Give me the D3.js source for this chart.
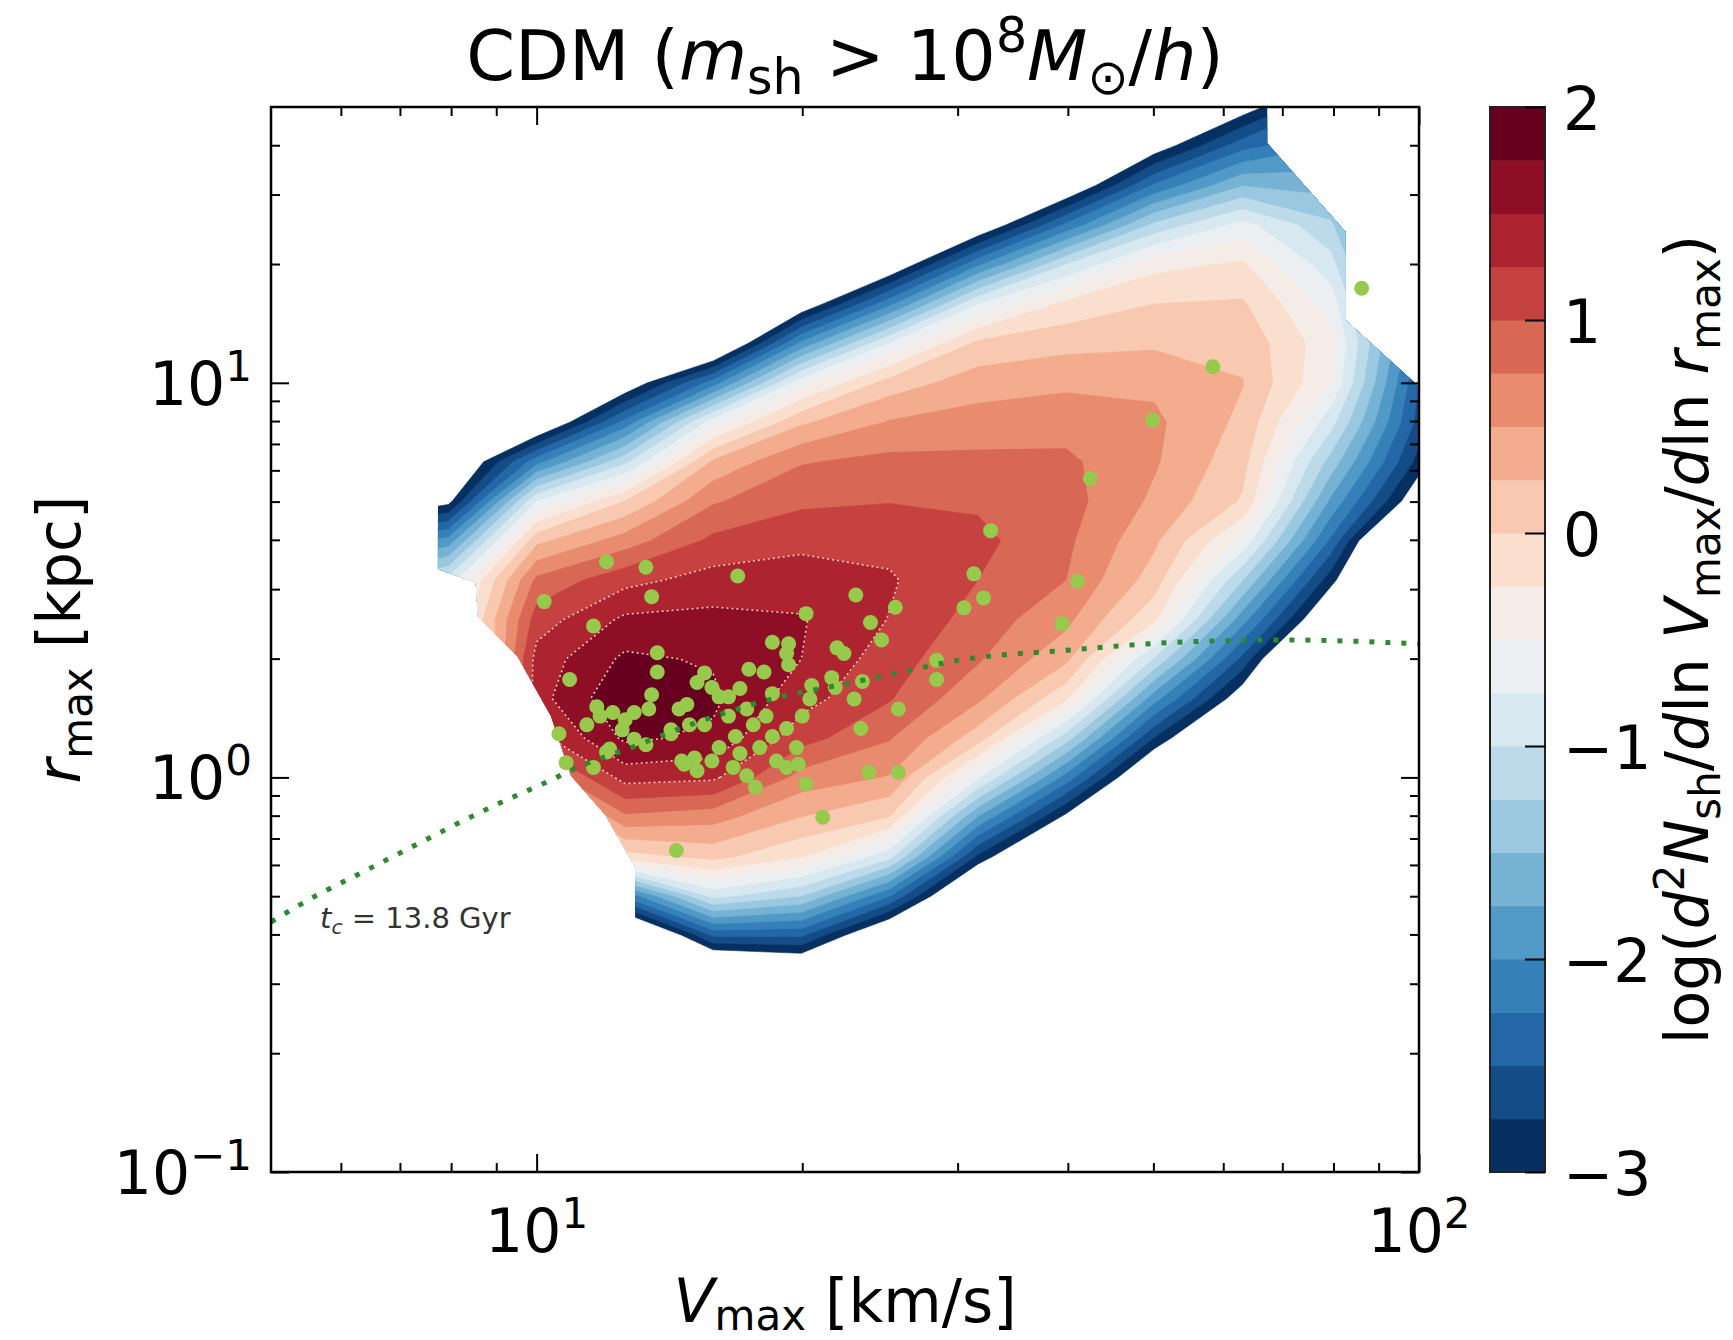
<!DOCTYPE html>
<html lang="en">
	<head>
		<meta charset="utf-8">
		<title>CDM subhalo Vmax - rmax density</title>
		<script type="text/javascript" src="https://cdn.jsdelivr.net/npm/d3@7/dist/d3.min.js"></script>
		<style type="text/css">
			body { margin: 0; background: #fff; }
			svg { display: block; font-family: "DejaVu Sans", sans-serif; }
			text { white-space: pre; }
		</style>
	</head>
	<body>
		<script type="text/javascript">

			//
			//	Density field on a 0.1 dex grid
			//	(log10 Vmax across, log10 rmax down, top row first)
			//
			var gridLogV = [0.8, 0.9, 1.0, 1.1, 1.2, 1.3, 1.4, 1.5, 1.6, 1.7, 1.8, 1.9, 2.0];
			var gridLogR = [1.7, 1.6, 1.5, 1.4, 1.3, 1.2, 1.1, 1.0, 0.9, 0.8, 0.7, 0.6,
							0.5, 0.4, 0.3, 0.2, 0.1, 0.0, -0.1, -0.2, -0.3, -0.4, -0.5];
			var density = [
				[-4.5, -4.5, -4.5, -4.5, -4.5, -4.5, -4.5, -4.5, -4.5, -4.2, -3.19, -2.4, -3.5],
				[-4.5, -4.5, -4.5, -4.5, -4.5, -4.5, -4.5, -4.5, -4.5, -3.2, -2.34, -2.0, -3.2],
				[-4.5, -4.5, -4.5, -4.5, -4.5, -4.5, -4.5, -4.5, -3.4, -2.21, -1.51, -1.6, -3.0],
				[-4.5, -4.5, -4.5, -4.5, -4.5, -4.5, -4.5, -3.37, -2.2, -1.19, -0.66, -1.2, -2.8],
				[-4.5, -4.5, -4.5, -4.5, -4.5, -4.5, -3.37, -2.05, -1.0, -0.33, -0.21, -0.9, -2.6],
				[-4.5, -4.5, -4.5, -4.5, -4.5, -3.3, -2.07, -0.76, -0.18, 0.0, 0.03, -0.6, -2.45],
				[-4.5, -4.5, -4.5, -4.5, -3.7, -1.94, -0.74, 0.06, 0.17, 0.21, 0.18, -0.42, -2.3],
				[-4.5, -4.5, -4.5, -3.3, -2.13, -0.59, 0.11, 0.38, 0.45, 0.45, 0.26, -0.5, -2.5],
				[-4.5, -4.5, -3.5, -2.17, -0.62, 0.21, 0.52, 0.61, 0.65, 0.55, 0.19, -0.9, -2.6],
				[-4.5, -3.6, -2.1, -1.07, 0.29, 0.73, 0.82, 0.81, 0.8, 0.53, 0.09, -1.35, -2.85],
				[-3.5, -3.1, -0.75, 0.0, 0.72, 0.95, 0.99, 0.96, 0.85, 0.45, -0.03, -1.8, -3.3],
				[-2.4, -1.9, 0.18, 0.62, 1.06, 1.18, 1.17, 1.07, 0.8, 0.3, -0.57, -2.3, -4.5],
				[-1.4, -0.9, 0.81, 1.17, 1.35, 1.38, 1.28, 1.0, 0.75, 0.13, -1.24, -2.9, -4.5],
				[-1.2, -0.73, 1.12, 1.55, 1.57, 1.52, 1.24, 0.89, 0.57, -0.2, -1.9, -3.5, -4.5],
				[-1.5, -1.0, 1.35, 1.8, 1.72, 1.5, 1.12, 0.78, 0.31, -1.03, -2.57, -4.5, -4.5],
				[-2.0, -1.5, 1.4, 1.97, 1.8, 1.35, 1.02, 0.55, -0.2, -1.9, -3.24, -4.5, -4.5],
				[-2.5, -2.0, 1.15, 1.8, 1.7, 1.1, 0.77, 0.12, -1.13, -2.76, -4.0, -4.5, -4.5],
				[-3.0, -2.5, 0.5, 1.35, 1.3, 0.65, 0.48, -0.7, -2.1, -3.63, -4.5, -4.5, -4.5],
				[-3.5, -3.0, -0.4, 0.7, 0.6, 0.25, 0.0, -1.76, -3.08, -4.5, -4.5, -4.5, -4.5],
				[-4.0, -3.5, -1.2, -0.1, 0.08, -0.22, -0.91, -2.79, -4.0, -4.5, -4.5, -4.5, -4.5],
				[-4.0, -4.0, -2.5, -2.2, -0.91, -1.24, -2.23, -3.85, -4.5, -4.5, -4.5, -4.5, -4.5],
				[-4.0, -4.0, -3.5, -4.0, -2.45, -2.46, -3.55, -4.5, -4.5, -4.5, -4.5, -4.5, -4.5],
				[-4.0, -4.0, -4.0, -4.5, -3.94, -3.64, -4.5, -4.5, -4.5, -4.5, -4.5, -4.5, -4.5]
			];

			//	Edge of the region where the field is defined (Vmax, rmax)
			var maskV = [7.73, 67.3, 67.3, 82.6, 82.6, 100, 100, 12.93, 12.93, 11.96, 10.94, 10.38, 9.52, 8.58, 8.53, 7.73];
			var maskR = [50, 50, 40.5, 24.1, 14.4, 9.78, 0.1, 0.1, 0.593, 0.803, 1.01, 1.43, 2.02, 2.55, 3.12, 3.37];

			//	Subhaloes (green dots)
			var subV = [86.1, 58.4, 49.9, 42.4, 32.7, 31.3, 32.1, 30.5, 41.0, 39.4,
						28.4, 28.4, 25.7, 23.8, 25.7, 23.3, 21.1, 14.4, 12.0, 13.3,
						16.9, 10.2, 13.5, 23.0, 25.5, 20.2, 23.9, 24.6, 11.6, 18.5,
						19.3, 19.2, 19.3, 21.9, 22.3, 13.7, 10.9, 13.7, 13.5, 17.4,
						18.1, 15.5, 15.2, 15.8, 16.1, 18.5, 20.5, 21.6, 21.8, 22.9,
						23.4, 10.6, 10.8, 11.6, 11.8, 11.4, 12.0, 12.2, 12.6, 12.9,
						13.4, 12.9, 13.3, 14.5, 14.8, 14.9, 14.2, 15.5, 16.5, 17.0,
						17.3, 17.6, 16.8, 16.1, 15.1, 14.6, 15.8, 17.9, 18.5, 19.2,
						19.7, 20.0, 20.4, 17.3, 17.7, 20.2, 16.5, 18.2, 18.7, 19.2,
						19.8, 12.1, 14.7, 16.7, 17.0, 14.2, 15.2, 11.7, 12.5];
			var subR = [17.37, 10.98, 8.05, 5.72, 4.22, 3.28, 2.85, 2.69, 3.14, 2.45,
						1.98, 1.77, 1.49, 1.03, 1.03, 1.33, 0.793, 0.653, 3.52, 3.41,
						3.24, 2.79, 2.87, 2.90, 2.70, 2.60, 2.47, 2.23, 2.42, 2.20,
						2.18, 2.06, 1.93, 2.13, 2.06, 2.07, 1.77, 1.85, 1.62, 1.88,
						1.85, 1.84, 1.74, 1.69, 1.60, 1.63, 1.71, 1.79, 1.69, 1.58,
						1.75, 1.29, 1.09, 1.06, 1.43, 1.36, 1.16, 1.46, 1.40, 1.46,
						1.49, 1.25, 1.21, 1.49, 1.53, 1.36, 1.32, 1.36, 1.60, 1.68,
						1.49, 1.36, 1.27, 1.19, 1.12, 1.10, 1.10, 1.19, 1.27, 1.33,
						1.19, 1.43, 1.58, 1.01, 0.944, 0.962, 1.43, 1.43, 1.10, 1.06,
						1.08, 1.18, 1.08, 1.06, 1.15, 1.29, 1.04, 1.51, 1.32];

			//	t_c = 13.8 Gyr curve
			var tcV = [5.0, 5.61, 6.22, 6.97, 9.04, 10.15, 11.35, 12.8, 14.4, 16.7, 18.9, 21.6, 25.7, 30.0, 39.9, 53.1, 70.5, 100];
			var tcR = [0.43, 0.50, 0.562, 0.64, 0.857, 0.962, 1.08, 1.19, 1.32, 1.48, 1.60, 1.70, 1.84, 1.98, 2.10, 2.20, 2.23, 2.18];

			//	Ticks
			var xMajor = [10, 100];
			var xMinor = [6, 7, 8, 9, 20, 30, 40, 50, 60, 70, 80, 90];
			var yMajor = [0.1, 1, 10];
			var yMinor = [0.2, 0.3, 0.4, 0.5, 0.6, 0.7, 0.8, 0.9, 2, 3, 4, 5, 6, 7, 8, 9, 20, 30, 40];
			var cbTicks = [-3, -2, -1, 0, 1, 2];

			//Size and frame (note: "top" is taken by window.top, so prefixed names)
			var W = 1733, H = 1340;
			var pLeft = 271, pRight = 1419, pTop = 107, pBottom = 1172;
			var cbLeft = 1490, cbRight = 1545;
			var fs = 60;

			var x = d3.scaleLog().domain([5, 100]).range([pLeft, pRight]);
			var y = d3.scaleLog().domain([0.1, 50]).range([pBottom, pTop]);
			var cb = d3.scaleLinear().domain([-3, 2]).range([pBottom, pTop]);

			var levels = d3.range(20).map(function(i) { return -3 + 0.25 * i; });
			var bandColor = function(i) { return d3.interpolateRdBu(1 - i / 19); };

			var svg = d3.select("body")
						.append("svg")
						.attr("width", W)
						.attr("height", H);

			svg.append("rect").attr("width", W).attr("height", H).attr("fill", "#fff");

			var defs = svg.append("defs");
			defs.append("clipPath").attr("id", "plotClip")
				.append("rect")
				.attr("x", pLeft).attr("y", pTop)
				.attr("width", pRight - pLeft).attr("height", pBottom - pTop);
			defs.append("clipPath").attr("id", "domainClip")
				.append("path")
				.attr("d", d3.line()(maskV.map(function(v, i) { return [x(v), y(maskR[i])]; })) + "Z");

			// mathtext-ish labels built from tspans
			function rich(sel, parts, size, subShift) {
				var shift = 0, down = (subShift || 0.2) * size;
				parts.forEach(function(p) {
					var target = p.sub ? down : (p.sup ? -0.4 * size : 0);
					var ts = sel.append("tspan").text(p.t);
					if (p.sub || p.sup) ts.attr("font-size", 0.7 * size);
					if (p.it) ts.attr("font-style", "italic");
					if (target !== shift) { ts.attr("dy", target - shift); shift = target; }
				});
				return sel;
			}
			function pow10Parts(v) {
				var e = Math.round(Math.log10(v));
				return [{t: "10"}, {t: (e < 0 ? "\u2212" : "") + Math.abs(e), sup: true}];
			}

			// contour bands
			var nx = gridLogV.length, ny = gridLogR.length;
			var dV = gridLogV[1] - gridLogV[0], dR = gridLogR[1] - gridLogR[0];
			var values = [].concat.apply([], density);
			var bands = d3.contours().size([nx, ny]).thresholds(levels)(values);

			var toPixels = d3.geoTransform({
				point: function(gx, gy) {
					var lv = gridLogV[0] + (gx - 0.5) * dV,
						lr = gridLogR[0] + (gy - 0.5) * dR;
					this.stream.point(x(Math.pow(10, lv)), y(Math.pow(10, lr)));
				}
			});
			var path = d3.geoPath(toPixels);

			var field = svg.append("g").attr("clip-path", "url(#plotClip)")
						   .append("g").attr("clip-path", "url(#domainClip)");

			field.selectAll("path.band")
			   .data(bands)
			   .enter()
			   .append("path")
			   .attr("class", "band")
			   .attr("d", path)
			   .attr("fill", function(d, i) { return bandColor(i); })
			   .attr("stroke", function(d, i) { return bandColor(i); })
			   .attr("stroke-width", 0.6);

			field.selectAll("path.inner")
			   .data(bands.filter(function(d) { return d.value >= 1.25; }))
			   .enter()
			   .append("path")
			   .attr("class", "inner")
			   .attr("d", path)
			   .attr("fill", "none")
			   .attr("stroke", "#f3c4c0")
			   .attr("stroke-width", 1.6)
			   .attr("stroke-dasharray", "2,3");

			// subhaloes
			var pts = svg.append("g").attr("clip-path", "url(#plotClip)");
			pts.selectAll("circle")
			   .data(d3.range(subV.length))
			   .enter()
			   .append("circle")
			   .attr("cx", function(i) { return x(subV[i]); })
			   .attr("cy", function(i) { return y(subR[i]); })
			   .attr("r", 7.5)
			   .attr("fill", "#97c94c");

			// t_c line
			var tcLine = d3.line()
						   .x(function(i) { return x(tcV[i]); })
						   .y(function(i) { return y(tcR[i]); })
						   .curve(d3.curveMonotoneX);
			svg.append("path")
			   .attr("clip-path", "url(#plotClip)")
			   .attr("d", tcLine(d3.range(tcV.length)))
			   .attr("fill", "none")
			   .attr("stroke", "#2e8a30")
			   .attr("stroke-width", 5)
			   .attr("stroke-dasharray", "5,11");

			rich(svg.append("text")
					.attr("x", 320).attr("y", 928)
					.attr("font-size", 29)
					.attr("fill", "#333"),
				 [{t: "t", it: true}, {t: "c", it: true, sub: true}, {t: " = 13.8 Gyr"}], 29);

			// axes with inward ticks on all four sides
			function styleAxis(g) {
				g.select(".domain").remove();
				g.selectAll("line").attr("stroke", "#000").attr("stroke-width", 2);
			}
			var sides = [
				[d3.axisBottom(x), xMajor, xMinor, "translate(0," + pBottom + ")"],
				[d3.axisTop(x), xMajor, xMinor, "translate(0," + pTop + ")"],
				[d3.axisLeft(y), yMajor, yMinor, "translate(" + pLeft + ",0)"],
				[d3.axisRight(y), yMajor, yMinor, "translate(" + pRight + ",0)"]
			];
			sides.forEach(function(s) {
				svg.append("g").attr("transform", s[3])
				   .call(s[0].tickValues(s[1]).tickSize(-18).tickSizeOuter(0).tickFormat(""))
				   .call(styleAxis);
				svg.append("g").attr("transform", s[3])
				   .call(s[0].tickValues(s[2]).tickSize(-9).tickSizeOuter(0).tickFormat(""))
				   .call(styleAxis);
			});

			svg.append("rect")
			   .attr("x", pLeft).attr("y", pTop)
			   .attr("width", pRight - pLeft).attr("height", pBottom - pTop)
			   .attr("fill", "none")
			   .attr("stroke", "#000")
			   .attr("stroke-width", 2.5);

			// tick labels
			xMajor.forEach(function(v) {
				rich(svg.append("text")
						.attr("x", x(v)).attr("y", 1252)
						.attr("text-anchor", "middle")
						.attr("font-size", fs), pow10Parts(v), fs);
			});
			yMajor.forEach(function(v) {
				rich(svg.append("text")
						.attr("x", 252).attr("y", y(v) + 22)
						.attr("text-anchor", "end")
						.attr("font-size", fs), pow10Parts(v), fs);
			});

			// axis titles
			rich(svg.append("text")
					.attr("x", (pLeft + pRight) / 2).attr("y", 1322)
					.attr("text-anchor", "middle")
					.attr("font-size", fs),
				 [{t: "V", it: true}, {t: "max", sub: true}, {t: " [km/s]"}], fs, 0.14);

			rich(svg.append("text")
					.attr("transform", "translate(80," + (pTop + pBottom) / 2 + ") rotate(-90)")
					.attr("text-anchor", "middle")
					.attr("font-size", fs),
				 [{t: "r", it: true}, {t: "max", sub: true}, {t: " [kpc]"}], fs);

			rich(svg.append("text")
					.attr("x", (pLeft + pRight) / 2).attr("y", 80)
					.attr("text-anchor", "middle")
					.attr("font-size", 70),
				 [{t: "CDM ("}, {t: "m", it: true}, {t: "sh", sub: true}, {t: " > 10"},
				  {t: "8", sup: true}, {t: "M", it: true}, {t: "\u2299", sub: true},
				  {t: "/"}, {t: "h", it: true}, {t: ")"}], 70);

			// colorbar
			svg.append("g")
			   .selectAll("rect")
			   .data(levels)
			   .enter()
			   .append("rect")
			   .attr("x", cbLeft)
			   .attr("width", cbRight - cbLeft)
			   .attr("y", function(d) { return cb(d + 0.25); })
			   .attr("height", function(d) { return cb(d) - cb(d + 0.25) + 0.5; })
			   .attr("fill", function(d, i) { return bandColor(i); });

			svg.append("rect")
			   .attr("x", cbLeft).attr("y", pTop)
			   .attr("width", cbRight - cbLeft).attr("height", pBottom - pTop)
			   .attr("fill", "none")
			   .attr("stroke", "#222")
			   .attr("stroke-width", 2);

			var cbAxis = svg.append("g")
			   .attr("transform", "translate(" + cbRight + ",0)")
			   .call(d3.axisRight(cb).tickValues(cbTicks).tickSize(-20).tickSizeOuter(0).tickPadding(18)
					   .tickFormat(function(d) { return (d < 0 ? "\u2212" : "") + Math.abs(d); }));
			cbAxis.select(".domain").remove();
			cbAxis.attr("font-size", fs).attr("font-family", "DejaVu Sans");
			cbAxis.selectAll("line").attr("stroke", "#000").attr("stroke-width", 2);
			cbAxis.selectAll("text").attr("dy", "0.37em").attr("fill", "#000");

			rich(svg.append("text")
					.attr("transform", "translate(1708," + (pTop + pBottom) / 2 + ") rotate(-90)")
					.attr("text-anchor", "middle")
					.attr("font-size", fs),
				 [{t: "log("}, {t: "d", it: true}, {t: "2", sup: true}, {t: "N", it: true},
				  {t: "sh", sub: true}, {t: "/"}, {t: "d", it: true}, {t: "ln "},
				  {t: "V", it: true}, {t: "max", sub: true}, {t: "/"}, {t: "d", it: true},
				  {t: "ln "}, {t: "r", it: true}, {t: "max", sub: true}, {t: ")"}], fs);

		</script>
	</body>
</html>
